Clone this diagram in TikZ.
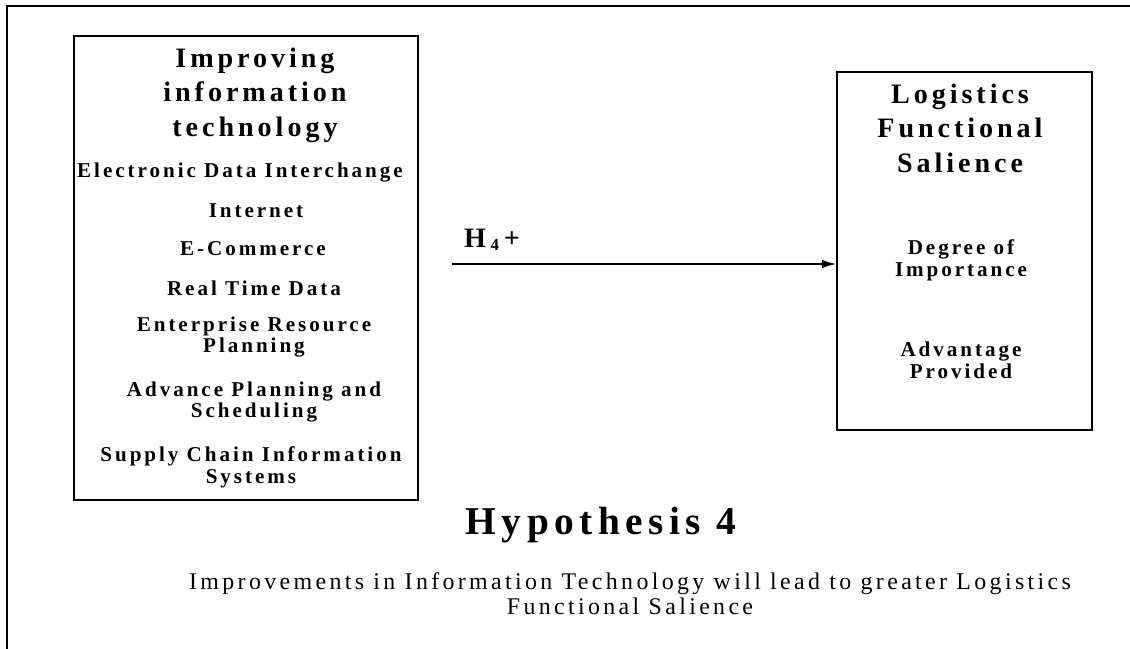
\documentclass[tikz,border=0pt]{standalone}
\usepackage{fontspec}
\setmainfont{Liberation Serif}
\newfontfamily\spacedserif[LetterSpace=14]{Liberation Serif}
\usetikzlibrary{positioning, arrows.meta}

\begin{document}
\begin{tikzpicture}[x=0.025cm, y=-0.025cm, >={Latex[length=10pt, width=6pt]}, line width=1.2pt,
	box/.style={draw, rectangle, inner sep=0pt},
	headtext/.style={font=\spacedserif\bfseries\fontsize{20}{24.5}\selectfont, align=center},
	itemtext/.style={font=\spacedserif\bfseries\fontsize{15}{15.5}\selectfont, align=center},
	captext/.style={font=\spacedserif\fontsize{17}{17.5}\selectfont, align=center}]
	
	\useasboundingbox (0,0) rectangle (1130,649);
	
	% scanned page frame (top and left only)
	\draw (7,649) -- (7,6) -- (1130,6);
	
	% ================= left: information technology =================
	\node[box, minimum width=8.6cm, minimum height=11.6cm] (itbox) at (246,268) {};
	\node[headtext] (ittitle) at (255,95) {Improving\\information\\technology};
	\node[itemtext] (edi) at (240,173) {Electronic Data Interchange};
	\node[itemtext] (internet) at (256,211) {Internet};
	\node[itemtext] (ecom) at (253,249) {E-Commerce};
	\node[itemtext] (rtd) at (254,288) {Real Time Data};
	\node[itemtext] (erp) at (254,337) {Enterprise Resource\\Planning};
	\node[itemtext] (aps) at (254,402) {Advance Planning and\\Scheduling};
	\node[itemtext] (scis) at (251,467) {Supply Chain Information\\Systems};
	
	% ================= right: logistics salience =================
	\node[box, minimum width=6.375cm, minimum height=8.95cm] (salbox) at (964.5,251) {};
	\node[headtext] (saltitle) at (960,128) {Logistics\\Functional\\Salience};
	\node[itemtext] (degree) at (961,260) {Degree of\\Importance};
	\node[itemtext] (advantage) at (961,360) {Advantage\\Provided};
	
	% hypothesis arrow
	\coordinate (h4start) at (452,264);
	\draw[->] (h4start) -- (h4start -| salbox.west);
	\node[font=\bfseries\fontsize{20}{22}\selectfont] (h4) at (492,240) {H\,{\fontsize{12}{14}\selectfont\raisebox{-0.45ex}{4}}\,+};
	
	% caption
	\node[font=\spacedserif\bfseries\fontsize{28}{30}\selectfont] (hyp) at (601,525) {Hypothesis 4};
	\node[captext] (hyptext) at (630,594) {Improvements in Information Technology will lead to greater Logistics\\Functional Salience};
	
\end{tikzpicture}
\end{document}
